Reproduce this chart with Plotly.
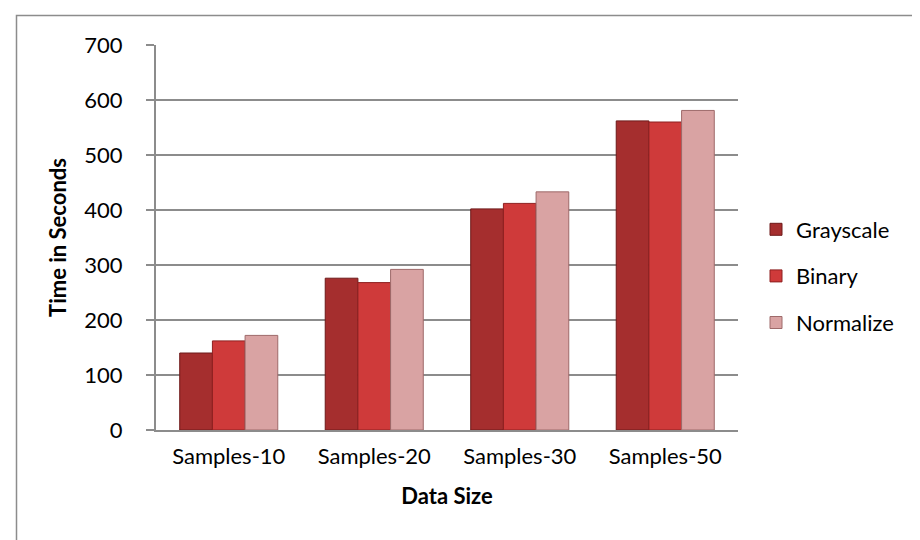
import plotly.graph_objects as go

categories = ["Samples-10", "Samples-20", "Samples-30", "Samples-50"]
grayscale = [140, 276, 402, 562]
binary = [162, 268, 412, 560]
normalize = [172, 292, 433, 581]
y_ticks = [0, 100, 200, 300, 400, 500, 600, 700]

FONT = "Lato"
FS = 22

fig = go.Figure()
series = [
    ("Grayscale", grayscale, "#A52E2E", "#6E1A1A"),
    ("Binary", binary, "#CF3A3A", "#8E2020"),
    ("Normalize", normalize, "#D9A3A3", "#9E6A6A"),
]
for name, vals, col, edge in series:
    fig.add_trace(go.Bar(
        x=categories, y=vals, name=name, legendgroup=name,
        marker=dict(color=col, line=dict(color=edge, width=1)),
    ))

W, H = 920, 540
L, R, T, B = 148, 190, 37, 118
pw, ph = W - L - R, H - T - B

fig.update_layout(
    width=W, height=H,
    margin=dict(l=L, r=R, t=T, b=B),
    paper_bgcolor="white", plot_bgcolor="white",
    barmode="group", bargap=0.326, bargroupgap=0,
    font=dict(family=FONT, size=FS, color="#000000"),
    showlegend=True,
    legend=dict(
        x=(748 - L) / pw, xanchor="left",
        y=(422 - 268) / ph, yanchor="middle",
        font=dict(family=FONT, size=FS),
        itemwidth=30, traceorder="grouped", tracegroupgap=15,
        bgcolor="rgba(0,0,0,0)",
    ),
    xaxis=dict(
        showline=True, linecolor="#8C8C8C", linewidth=2,
        ticks="", showgrid=False,
        tickfont=dict(family=FONT, size=FS),
        ticklabelstandoff=6,
        title=dict(text="<b>Data Size</b>", font=dict(family=FONT, size=FS), standoff=20),
    ),
    yaxis=dict(
        range=[0, 700], tickvals=y_ticks,
        showline=True, linecolor="#8C8C8C", linewidth=2,
        ticks="outside", ticklen=8, tickcolor="#8C8C8C", tickwidth=2,
        showgrid=True, gridcolor="#8C8C8C", gridwidth=2,
        zeroline=False,
        tickfont=dict(family=FONT, size=FS),
        ticklabelstandoff=19,
        title=dict(text="<b>Time in Seconds</b>", font=dict(family=FONT, size=FS), standoff=12),
    ),
    shapes=[dict(
        type="rect", xref="paper", yref="paper",
        x0=(8.5 - L) / pw, x1=1.6, y0=-0.6, y1=(422 - 7.5) / ph,
        line=dict(color="#8C8C8C", width=1.5), fillcolor="rgba(0,0,0,0)", layer="below",
    )],
)

fig.write_html("out.html")
